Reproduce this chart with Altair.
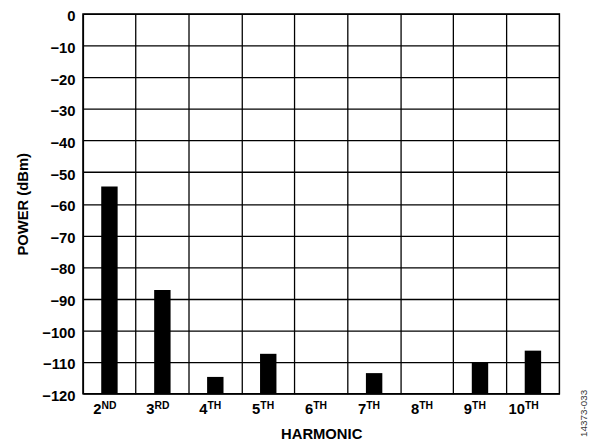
import altair as alt
import pandas as pd

harmonics = ["2", "3", "4", "5", "6", "7", "8", "9", "10"]
suffixes = ["ND", "RD", "TH", "TH", "TH", "TH", "TH", "TH", "TH"]
power_dbm = [-54.5, -87.2, -114.7, -107.4, None, -113.5, None, -110.0, -106.4]
y_ticks = [0, -10, -20, -30, -40, -50, -60, -70, -80, -90, -100, -110, -120]
figure_id = ["14373-033"]

W, H = 483, 385
df = pd.DataFrame({"harmonic": harmonics, "suffix": suffixes, "power": power_dbm})

FONT = "Liberation Sans"

xenc = alt.X(
    "harmonic:N",
    sort=harmonics,
    scale=alt.Scale(paddingInner=0, paddingOuter=0),
    axis=alt.Axis(
        title="HARMONIC",
        titleFont=FONT, titleFontSize=15, titleFontWeight="bold", titleColor="black",
        titlePadding=10,
        labelFont=FONT, labelFontSize=15, labelFontWeight="bold", labelColor="black",
        labelAlign="right", labelBaseline="top", labelOffset=-8, labelPadding=8,
        labelAngle=0,
        ticks=False, domain=False,
        grid=True, gridColor="black", gridWidth=1.3, gridOpacity=1,
        bandPosition=0,
    ),
)

yscale = alt.Scale(domain=[-120, 0], nice=False, zero=False)

bars = alt.Chart(df).mark_bar(color="black", width=alt.RelativeBandSize(0.31)).encode(
    x=xenc,
    y=alt.Y(
        "power:Q",
        scale=yscale,
        axis=alt.Axis(
            title="POWER (dBm)",
            titleFont=FONT, titleFontSize=15, titleFontWeight="bold", titleColor="black",
            titlePadding=11,
            values=y_ticks, format="d",
            labelFont=FONT, labelFontSize=15, labelFontWeight="bold", labelColor="black",
            labelPadding=8, labelOffset=2,
            ticks=False, domain=False,
            grid=True, gridColor="black", gridWidth=1.3, gridOpacity=1,
        ),
    ),
    y2=alt.datum(-120),
)

suffix_text = alt.Chart(df).mark_text(
    font=FONT, fontSize=10.5, fontWeight="bold", color="black",
    align="left", baseline="top", dx=-8,
).encode(
    x=alt.X("harmonic:N", sort=harmonics),
    y=alt.value(H + 8),
    text="suffix:N",
)

fig_label = alt.Chart(pd.DataFrame({"t": figure_id})).mark_text(
    font=FONT, fontSize=10, color="#333333", angle=270, align="center", baseline="middle",
).encode(
    x=alt.value(W + 25),
    y=alt.value(H + 20),
    text="t:N",
)

chart = alt.layer(bars, suffix_text, fig_label).properties(
    width=W, height=H,
    autosize=alt.AutoSizeParams(type="none"),
    padding={"left": 76, "top": 3, "right": 29, "bottom": 48},
).configure_view(stroke="black", strokeWidth=1.5)

chart.save("out.html", embed_options={"renderer": "svg", "actions": False})
